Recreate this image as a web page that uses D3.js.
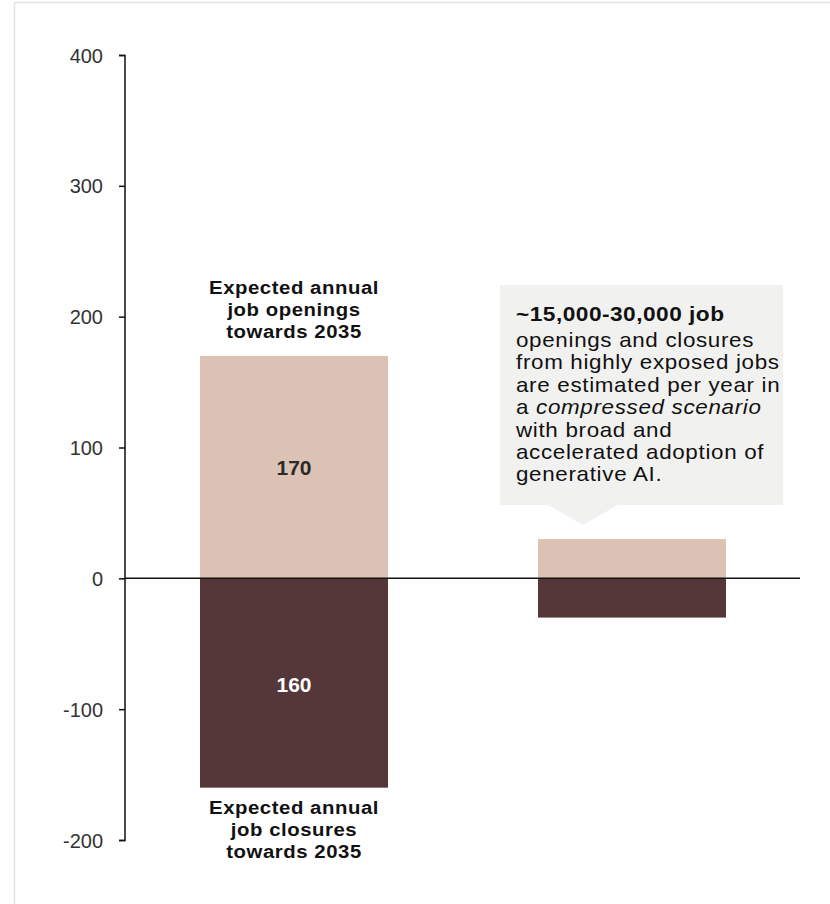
<!DOCTYPE html>
<html>
<head>
<meta charset="utf-8">
<script src="https://cdn.jsdelivr.net/npm/d3@7"></script>
<style>
  html, body { margin: 0; padding: 0; background: #fff; }
  svg { display: block; font-family: "Liberation Sans", Arial, sans-serif; }
</style>
</head>
<body>
<svg id="chart" width="830" height="904"></svg>
<script>
const categories = ["Total", "Highly exposed"];
const openings = [170, 30];
const closures = [-160, -30];
const barLabels = ["170", "160"];
const yTicks = [400, 300, 200, 100, 0, -100, -200];
const openingsLabel = ["Expected annual", "job openings", "towards 2035"];
const closuresLabel = ["Expected annual", "job closures", "towards 2035"];
const noteTitle = "~15,000-30,000 job";
const noteLines = [
  [["openings and closures", false]],
  [["from highly exposed jobs", false]],
  [["are estimated per year in", false]],
  [["a ", false], ["compressed scenario", true]],
  [["with broad and", false]],
  [["accelerated adoption of", false]],
  [["generative AI.", false]]
];

const FONT = "'Liberation Sans', Arial, sans-serif";
const svg = d3.select("#chart");

// outer frame
svg.append("rect").attr("x", 14.5).attr("y", 2.5).attr("width", 830).attr("height", 920)
  .attr("fill", "none").attr("stroke", "#e6e2de").attr("stroke-width", 1.5);

const y = d3.scaleLinear().domain([-200, 400]).range([840, 55]);
const xPos = d3.scaleOrdinal().domain(categories).range([200, 538]);
const bw = 188;

// helper: text drawn with a slight horizontal stretch
function stext(x, yy, str, opts) {
  const t = svg.append("text")
    .attr("transform", `translate(${x},${yy}) scale(${opts.sx || 1},1)`)
    .attr("text-anchor", opts.anchor || "start")
    .attr("font-size", opts.size)
    .attr("font-weight", opts.bold ? "bold" : "normal")
    .attr("letter-spacing", opts.ls || 0)
    .attr("fill", opts.fill || "#111");
  if (typeof str === "string") t.text(str);
  else str.forEach(p => t.append("tspan").attr("font-style", p[1] ? "italic" : "normal").text(p[0]));
  return t;
}

// y axis
const yAxis = d3.axisLeft(y).tickValues(yTicks).tickSize(6).tickPadding(16)
  .tickFormat(d => String(d));
const gy = svg.append("g").attr("transform", "translate(125,0)").call(yAxis)
  .attr("font-family", FONT);
gy.select(".domain").attr("stroke", "#111").attr("stroke-width", 1.5).attr("d", "M-6,55.5H0V840.5H-6");
gy.selectAll(".tick line").attr("stroke", "#111").attr("stroke-width", 1.5);
gy.selectAll(".tick text").attr("fill", "#333").attr("font-size", 20).attr("dy", "0.35em");

// bars
svg.selectAll(".open").data(categories).enter().append("rect")
  .attr("x", d => xPos(d)).attr("width", bw)
  .attr("y", (d, i) => y(openings[i])).attr("height", (d, i) => y(0) - y(openings[i]))
  .attr("fill", "#dcc1b5");
svg.selectAll(".close").data(categories).enter().append("rect")
  .attr("x", d => xPos(d)).attr("width", bw)
  .attr("y", y(0)).attr("height", (d, i) => y(closures[i]) - y(0))
  .attr("fill", "#553739");

// zero line
svg.append("line").attr("x1", 125).attr("x2", 800).attr("y1", y(0)).attr("y2", y(0))
  .attr("stroke", "#111").attr("stroke-width", 1.5);

// value labels
const cx0 = xPos(categories[0]) + bw / 2;
stext(cx0, y(openings[0] / 2) + 7.5, barLabels[0], { anchor: "middle", size: 20, bold: true, sx: 1.05, fill: "#2a2a2a" });
stext(cx0, y(closures[0] / 2) + 9, barLabels[1], { anchor: "middle", size: 20, bold: true, sx: 1.05, fill: "#fff" });

// category labels
const lh = 22;
openingsLabel.forEach((t, i) => {
  stext(cx0, y(openings[0]) - 61.5 + i * lh, t, { anchor: "middle", size: 18.5, bold: true, sx: 1.1, ls: 0.5 });
});
closuresLabel.forEach((t, i) => {
  stext(cx0, y(closures[0]) + 26.5 + i * lh, t, { anchor: "middle", size: 18.5, bold: true, sx: 1.1, ls: 0.5 });
});

// annotation box
const bx = 500, by = 285, bwid = 283, bh = 220;
const tipX = 583;
svg.append("path")
  .attr("d", `M${bx},${by}H${bx + bwid}V${by + bh}H${tipX + 35}L${tipX},${by + bh + 20}L${tipX - 35},${by + bh}H${bx}Z`)
  .attr("fill", "#f1f1f0");

const tx = 516;
stext(tx, 321, noteTitle, { size: 21, bold: true, sx: 1.08, ls: 0.45 });
noteLines.forEach((parts, i) => {
  stext(tx, 347 + i * 22.4, parts, { size: 20, sx: 1.12, ls: 0.6 });
});
</script>
</body>
</html>
